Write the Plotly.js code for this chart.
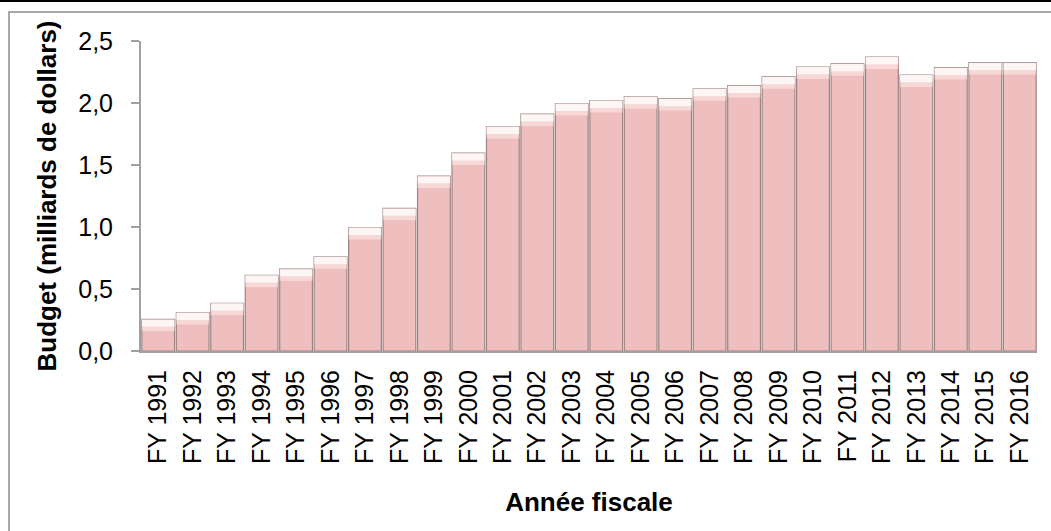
<!DOCTYPE html>
<html>
<head>
<meta charset="utf-8">
<script src="https://cdn.plot.ly/plotly-3.0.1.min.js"></script>
<style>
  html, body { margin: 0; padding: 0; background: #ffffff; }
  #wrap { position: relative; width: 1051px; height: 531px; overflow: hidden; }
  #chart { position: absolute; left: 0; top: 0; width: 1051px; height: 531px; }
  .deco { position: absolute; pointer-events: none; }
</style>
</head>
<body>
<div id="wrap">
  <div id="chart"></div>
  <div class="deco" style="left:0;top:0;width:1051px;height:2px;background:#000;"></div>
  <div class="deco" style="left:8px;top:11px;width:1043px;height:2px;background:#a8a8a8;"></div>
  <div class="deco" style="left:8px;top:11px;width:2px;height:520px;background:#a8a8a8;"></div>
</div>
<script>
// Data (budget, billions of dollars)
const years = ["FY 1991","FY 1992","FY 1993","FY 1994","FY 1995","FY 1996","FY 1997","FY 1998","FY 1999","FY 2000",
               "FY 2001","FY 2002","FY 2003","FY 2004","FY 2005","FY 2006","FY 2007","FY 2008","FY 2009","FY 2010",
               "FY 2011","FY 2012","FY 2013","FY 2014","FY 2015","FY 2016"];
const budget = [0.255, 0.31, 0.385, 0.61, 0.66, 0.76, 0.995, 1.15, 1.41, 1.595,
                1.81, 1.91, 1.995, 2.02, 2.05, 2.035, 2.115, 2.14, 2.21, 2.29,
                2.315, 2.37, 2.225, 2.285, 2.325, 2.325];
const yTickVals = [0, 0.5, 1.0, 1.5, 2.0, 2.5];

const FONT = "Liberation Sans, Arial, Helvetica, sans-serif";
const capDepth = 0.06; // visual depth of the top bevel highlight (in data units)

const mainBars = {
  type: "bar",
  x: years,
  y: budget,
  marker: {
    color: "#efbebe",
    line: { color: "#9c8383", width: 1.2 }
  },
  hovertemplate: "%{x}: %{y:.2f}<extra></extra>",
  showlegend: false
};

// Soft secondary highlight just under the bevel
const capSoft = {
  type: "bar",
  x: years,
  y: budget.map(() => capDepth * 0.6),
  base: budget.map(v => v - capDepth * 1.6),
  marker: { color: "rgba(255,235,235,0.55)", line: { width: 0 } },
  hoverinfo: "skip",
  showlegend: false
};

// Top bevel highlight of each bar, derived from the same values
const capBars = {
  type: "bar",
  x: years,
  y: budget.map(() => capDepth),
  base: budget.map(v => v - capDepth),
  marker: { color: "rgba(255,250,250,0.92)", line: { width: 0 } },
  hoverinfo: "skip",
  showlegend: false
};

const layout = {
  width: 1051,
  height: 531,
  margin: { l: 141, r: 14, t: 41, b: 180 },
  paper_bgcolor: "#ffffff",
  plot_bgcolor: "#ffffff",
  separators: ", ",
  barmode: "overlay",
  bargap: 0.05,
  font: { family: FONT, color: "#000000", size: 25 },
  xaxis: {
    type: "category",
    tickangle: -90,
    ticks: "",
    showgrid: false,
    zeroline: false,
    showline: true,
    linecolor: "#a0a0a0",
    linewidth: 2,
    ticklabelstandoff: 7,
    tickfont: { family: FONT, size: 25, color: "#000" },
    title: {
      text: "Année fiscale",
      font: { family: FONT, size: 26, color: "#000", weight: "bold" },
      standoff: 30
    }
  },
  yaxis: {
    range: [0, 2.5],
    tickvals: yTickVals,
    tickformat: ".1f",
    ticks: "outside",
    ticklen: 8,
    tickwidth: 2,
    tickcolor: "#a0a0a0",
    showgrid: false,
    zeroline: false,
    showline: true,
    linecolor: "#a0a0a0",
    linewidth: 2,
    ticklabelstandoff: 13,
    tickfont: { family: FONT, size: 25, color: "#000" },
    title: {
      text: "Budget (milliards de dollars)",
      font: { family: FONT, size: 26, color: "#000", weight: "bold" },
      standoff: 14
    }
  }
};

Plotly.newPlot("chart", [mainBars, capSoft, capBars], layout, { displayModeBar: false, staticPlot: true });
</script>
</body>
</html>
